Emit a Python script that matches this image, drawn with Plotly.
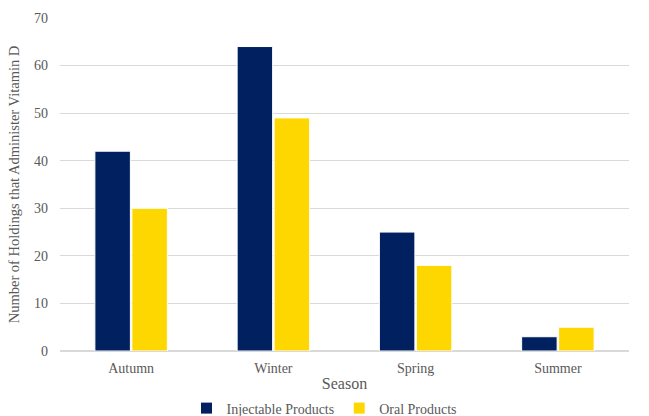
import plotly.graph_objects as go

seasons = ["Autumn", "Winter", "Spring", "Summer"]
injectable = [42, 64, 25, 3]
oral = [30, 49, 18, 5]

font_family = "Times New Roman, Liberation Serif, serif"
gray = "#595959"

fig = go.Figure()
fig.add_trace(go.Bar(name="Injectable Products", x=seasons, y=injectable,
                     marker=dict(color="#002060", line=dict(color="#ffffff", width=1))))
fig.add_trace(go.Bar(name="Oral Products", x=seasons, y=oral,
                     marker=dict(color="#FFD700", line=dict(color="#ffffff", width=1))))

fig.update_layout(
    width=649, height=416,
    margin=dict(l=60, r=20, t=18, b=65, autoexpand=False),
    paper_bgcolor="white", plot_bgcolor="white",
    barmode="group", bargap=0.48, bargroupgap=0.04,
    font=dict(family=font_family, size=14, color=gray),
    legend=dict(orientation="h", x=0.5, xanchor="center", xref="container",
                y=0.018, yanchor="middle", yref="container",
                font=dict(family=font_family, size=14, color=gray), itemwidth=30,
                traceorder="normal", tracegroupgap=0),
    xaxis=dict(title=dict(text="Season", font=dict(family=font_family, size=16, color=gray), standoff=6),
               showgrid=False, showline=True, linecolor="#d9d9d9", linewidth=1,
               ticks="", tickfont=dict(family=font_family, size=14, color=gray),
               ticklabelstandoff=4, automargin=False),
    yaxis=dict(title=dict(text="Number of Holdings that Administer Vitamin D",
                          font=dict(family=font_family, size=14.5, color=gray), standoff=10),
               range=[0, 70], dtick=10, showgrid=True, gridcolor="#d9d9d9", gridwidth=1,
               zeroline=True, zerolinecolor="#d9d9d9", showline=False, automargin=False,
               tickfont=dict(family=font_family, size=14, color=gray), ticklabelstandoff=11),
)

fig.write_html("out.html")
